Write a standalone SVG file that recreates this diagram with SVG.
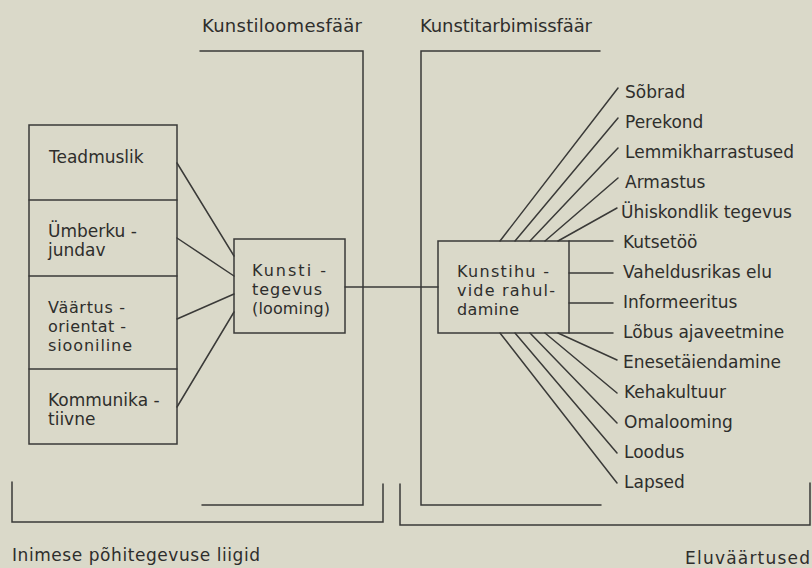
<svg xmlns="http://www.w3.org/2000/svg" width="812" height="568" viewBox="0 0 812 568">
<style>
.ln{stroke:#3a3a38;stroke-width:1.5;fill:none;stroke-linecap:round}
.bx{stroke:#3a3a38;stroke-width:1.5;fill:none}
text{font-family:"DejaVu Sans","Liberation Sans",sans-serif;font-size:17px;fill:#2e2e2c}
.hd{font-size:18px}
.sm{font-size:16px}
</style>
<rect width="812" height="568" fill="#dad9c9"/>
<g id="spheres">
<text class="hd" x="202" y="32" textLength="160" lengthAdjust="spacing">Kunstiloomesfäär</text>
<path class="ln" d="M200 51H363V505H202"/>
<text class="hd" x="420" y="32" textLength="172" lengthAdjust="spacing">Kunstitarbimissfäär</text>
<path class="ln" d="M600 51H421V505H601"/>
</g>
<g id="brackets">
<path class="ln" d="M12 482V522H383V484"/>
<text x="12" y="561" textLength="248" lengthAdjust="spacing">Inimese põhitegevuse liigid</text>
<path class="ln" d="M400 484V525H810V483"/>
<text x="685" y="564" textLength="125" lengthAdjust="spacing">Eluväärtused</text>
</g>
<g id="left-column">
<rect class="bx" x="29" y="125" width="148" height="319"/>
<path class="ln" d="M29 200H177M29 276H177M29 369H177"/>
<g id="teadmuslik"><text x="49" y="163">Teadmuslik</text></g>
<g id="umberkujundav"><text x="48" y="237">Ümberku -</text><text x="48" y="256">jundav</text></g>
<g id="vaartusorientatsiooniline"><text class="sm" x="48" y="313" textLength="77" lengthAdjust="spacing">Väärtus -</text><text class="sm" x="48" y="332" textLength="78" lengthAdjust="spacing">orientat -</text><text class="sm" x="48" y="351" textLength="84" lengthAdjust="spacing">siooniline</text></g>
<g id="kommunikatiivne"><text x="48" y="406">Kommunika -</text><text x="48" y="425">tiivne</text></g>
</g>
<g id="kunstitegevus">
<rect class="bx" x="234" y="239" width="111" height="94"/>
<text class="sm" x="252" y="276" textLength="74" lengthAdjust="spacing">Kunsti -</text>
<text class="sm" x="252" y="295" textLength="70" lengthAdjust="spacing">tegevus</text>
<text class="sm" x="252" y="314" textLength="78" lengthAdjust="spacing">(looming)</text>
</g>
<g id="kunstihuvide">
<rect class="bx" x="438" y="241" width="131" height="92"/>
<text class="sm" x="457" y="277" textLength="92" lengthAdjust="spacing">Kunstihu -</text>
<text class="sm" x="457" y="296" textLength="98" lengthAdjust="spacing">vide rahul-</text>
<text class="sm" x="457" y="315" textLength="62" lengthAdjust="spacing">damine</text>
</g>
<g id="values">
<text x="625" y="98">Sõbrad</text>
<text x="625" y="128">Perekond</text>
<text x="625" y="158">Lemmikharrastused</text>
<text x="625" y="188">Armastus</text>
<text x="621" y="218">Ühiskondlik tegevus</text>
<text x="623" y="248">Kutsetöö</text>
<text x="623" y="278">Vaheldusrikas elu</text>
<text x="623" y="308">Informeeritus</text>
<text x="623" y="338">Lõbus ajaveetmine</text>
<text x="623" y="368">Enesetäiendamine</text>
<text x="624" y="398">Kehakultuur</text>
<text x="624" y="428">Omalooming</text>
<text x="624" y="458">Loodus</text>
<text x="624" y="488">Lapsed</text>
</g>
<g id="connectors">
<path class="ln" d="M177 163L234 256M177 238L234 276M177 319L234 294M177 407L234 312"/>
<path class="ln" d="M345 287H438"/>
<path class="ln" d="M500 241L618 88M515 241L618 118M530 241L618 148M545 241L618 178M558 241L617 208"/>
<path class="ln" d="M569 241H613M569 273H613M569 303H613M569 333H613"/>
<path class="ln" d="M558 333L617 360M545 333L617 393M530 333L617 423M515 333L617 453M500 333L617 483"/>
</g>
</svg>
